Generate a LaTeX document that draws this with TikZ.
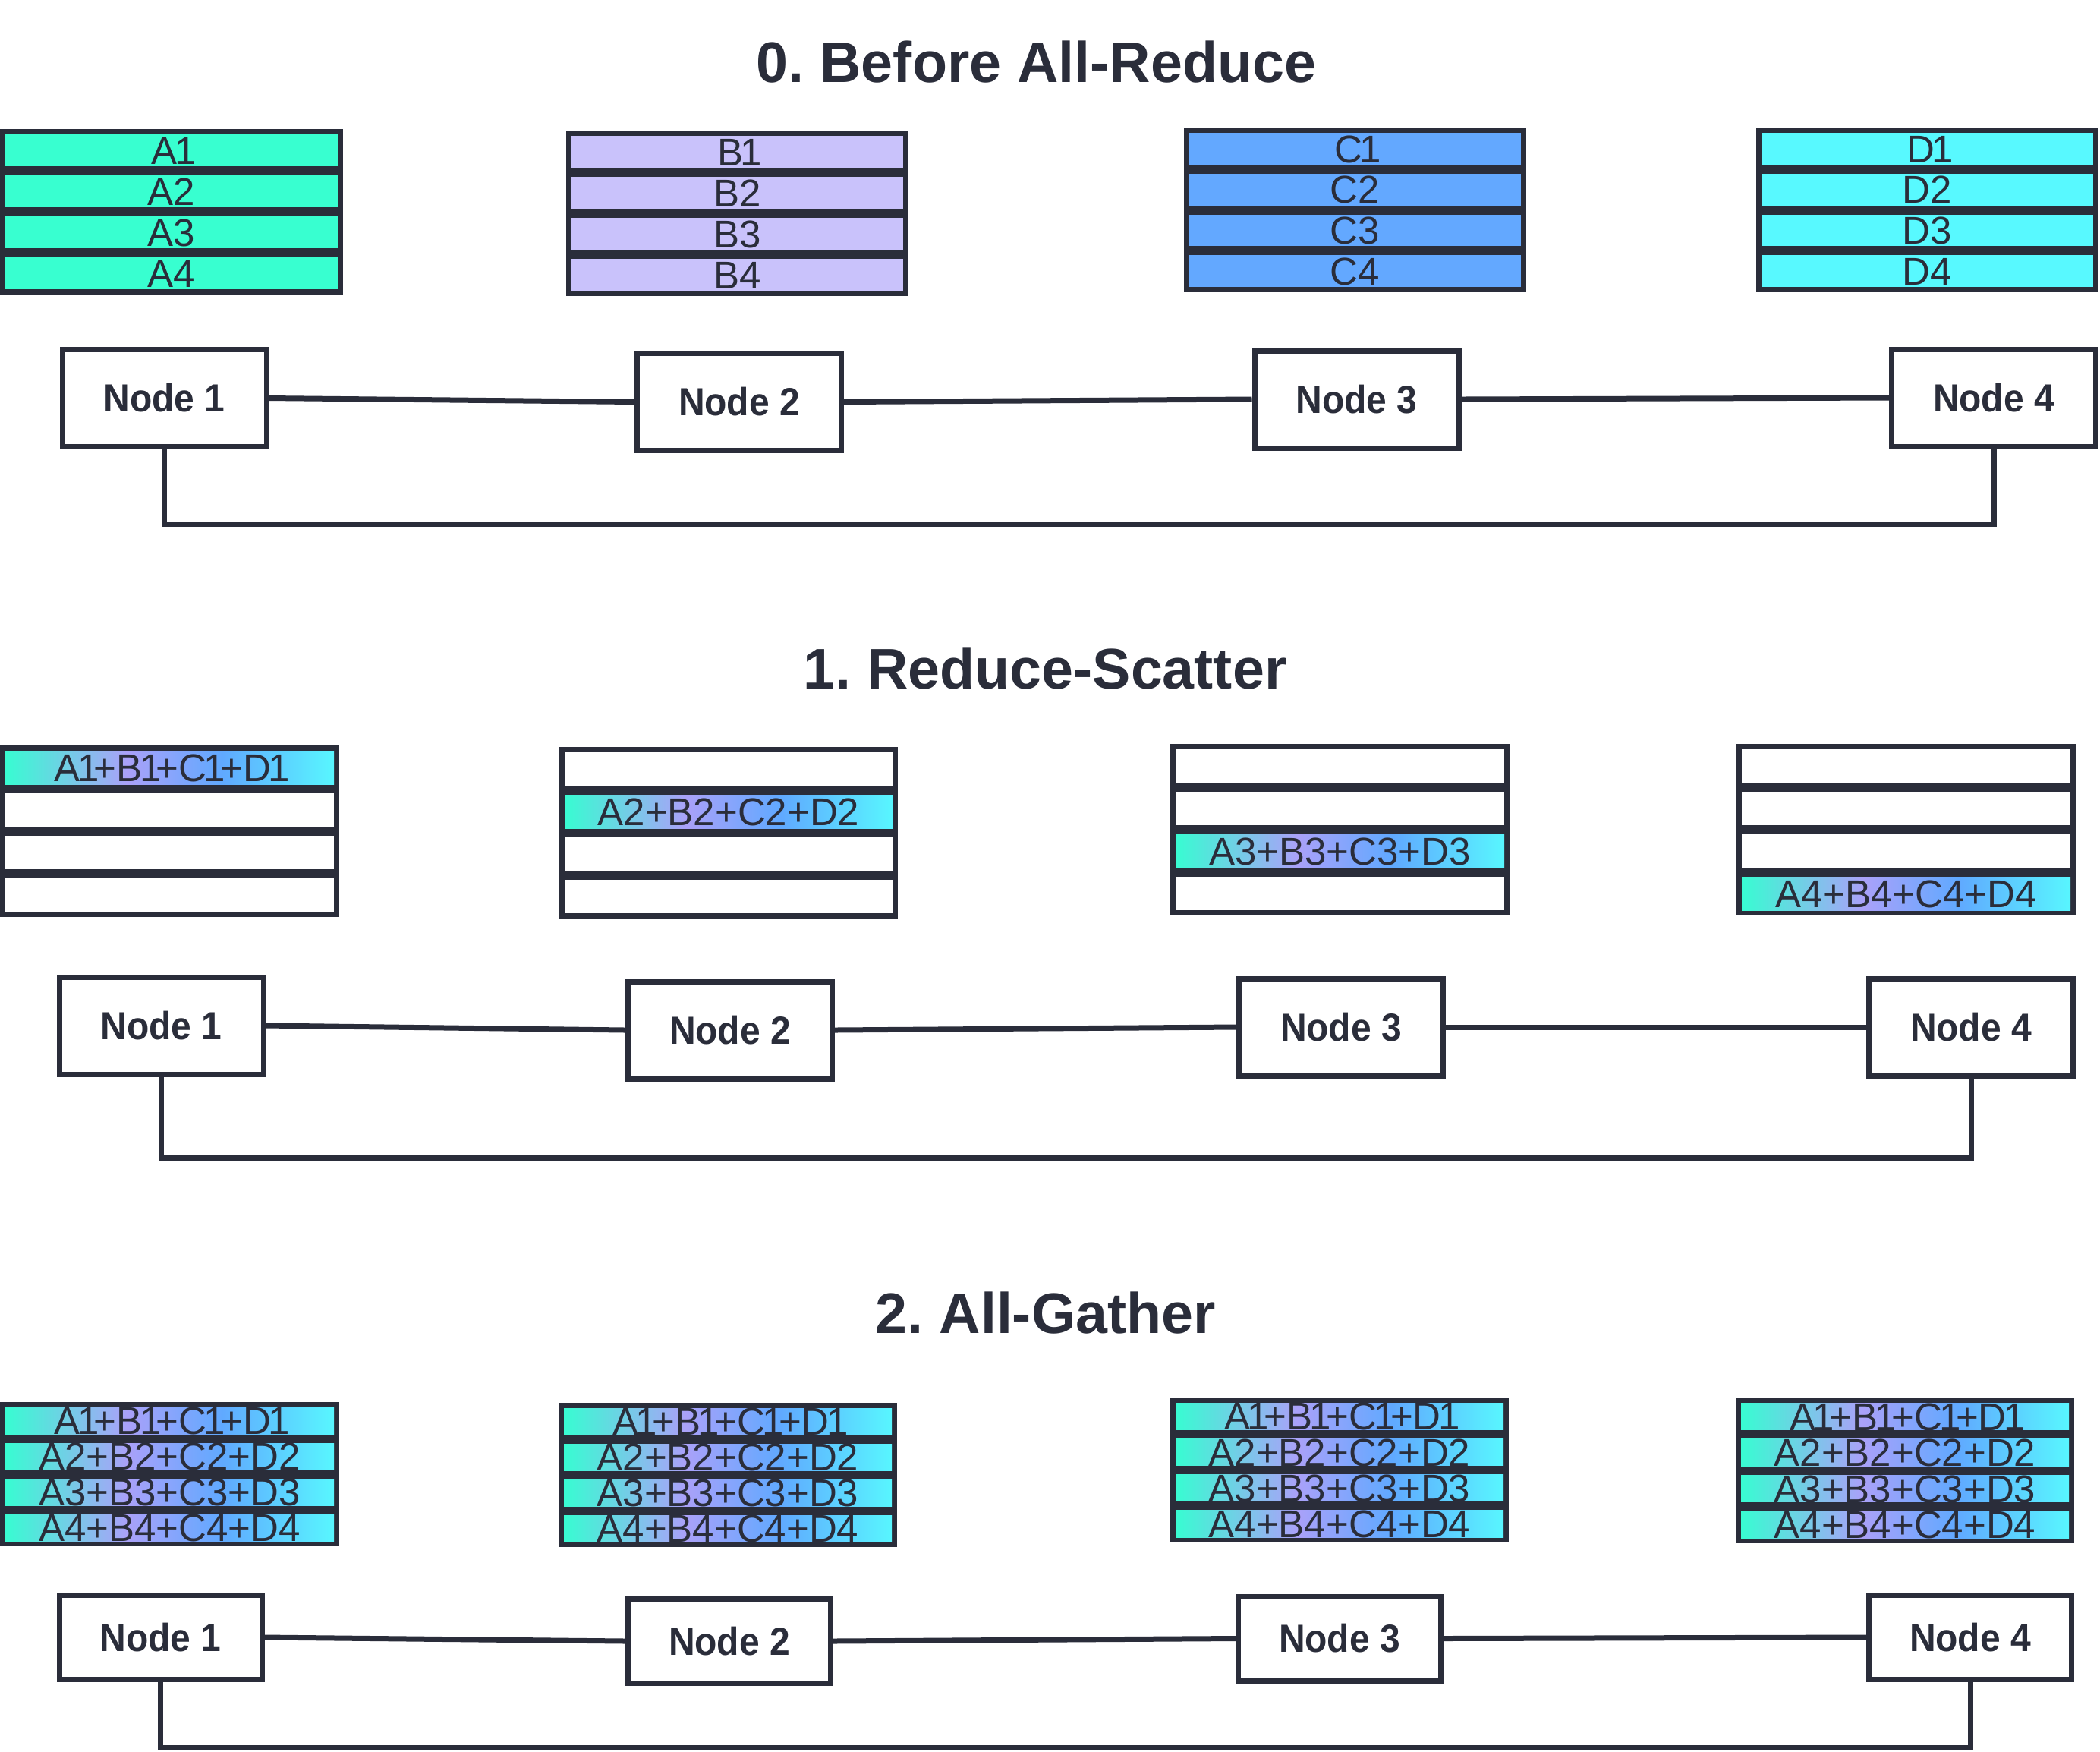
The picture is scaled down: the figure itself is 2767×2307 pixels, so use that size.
\documentclass[tikz,border=0pt]{standalone}
\usepackage{fontspec}
\setmainfont{Liberation Sans}
\newfontfamily\cellfont{Liberation Sans}
\newfontfamily\labfont[FakeStretch=0.93]{Liberation Sans}
\frenchspacing
\newcommand\one{\kern-0.07em1\kern-0.13em}
\definecolor{ink}{HTML}{2A2D3A}
\definecolor{colA}{HTML}{38FFD0}
\definecolor{colB}{HTML}{C9C2FB}
\definecolor{colC}{HTML}{63A8FF}
\definecolor{colD}{HTML}{58F9FF}
\definecolor{gA}{HTML}{38FCD2}
\definecolor{gB}{HTML}{AAA1F9}
\definecolor{gC}{HTML}{60A9FF}
\definecolor{gD}{HTML}{58F6FF}
\pgfdeclarehorizontalshading{cellgrad}{100bp}{color(0bp)=(gA); color(25bp)=(gA); color(43.5bp)=(gB); color(58bp)=(gC); color(75bp)=(gD); color(100bp)=(gD)}
\tikzset{
  rowA/.style={fill=colA},
  rowB/.style={fill=colB},
  rowC/.style={fill=colC},
  rowD/.style={fill=colD},
  rowW/.style={fill=white},
  rowG/.style={shading=cellgrad},
  celltext/.style={text=ink, inner sep=0pt, anchor=center,
    font=\cellfont\fontsize{12.75pt}{14pt}\selectfont,
    text height=9.13pt, text depth=0pt},
  netnode/.style={draw=ink, line width=1.75pt, fill=white, inner sep=0pt,
    text=ink, font=\labfont\bfseries\fontsize{12.9pt}{15pt}\selectfont,
    text height=9.2pt, text depth=0pt,
    minimum width=67.25pt, minimum height=32pt},
  shortnode/.style={netnode, minimum width=66.75pt, minimum height=27.75pt},
  link/.style={draw=ink, line width=1.75pt},
  title/.style={text=ink, inner sep=0pt, anchor=center,
    font=\bfseries\fontsize{18.85pt}{22pt}\selectfont,
    text height=13.5pt, text depth=0pt}
}
% #1 name, #2 x0, #3 y0, #4 x1, #5 y1, #6 list of style/text
\newcommand\databox[6]{%
  \fill[ink] (#2,#3) rectangle (#4,#5);
  \pgfmathsetmacro\rowh{((#5)-(#3)-50)/4}
  \foreach \st/\tx [count=\i from 0] in {#6} {
    \pgfmathsetmacro\ytop{#3+7+\i*(\rowh+12)}
    \pgfmathsetmacro\ybot{\ytop+\rowh}
    \expandafter\path\expandafter[\st] (#2+7,\ytop) rectangle (#4-7,\ybot);
    \node[celltext] (#1-\i) at ({(#2+#4)/2},{(\ytop+\ybot)/2}) {\tx};
  }
}
\begin{document}
\begin{tikzpicture}[x=0.25pt,y=-0.25pt]
\useasboundingbox (0,0) rectangle (2767,2307);
\fill[white] (0,0) rectangle (2767,2307);

% ---------- 0. Before All-Reduce ----------
\node[title] (t0) at (1365.5,81) {0. Before All-Reduce};
\databox{a0}{0}{170}{452}{388}{rowA/A\one,rowA/A2,rowA/A3,rowA/A4}
\databox{b0}{746}{172}{1197}{390}{rowB/B\one,rowB/B2,rowB/B3,rowB/B4}
\databox{c0}{1560}{168}{2011}{385}{rowC/C\one,rowC/C2,rowC/C3,rowC/C4}
\databox{d0}{2314}{168}{2765}{385}{rowD/D\one,rowD/D2,rowD/D3,rowD/D4}
\node[netnode] (n01) at (216.5,524.5) {Node 1};
\node[netnode] (n02) at (974,529.5) {Node 2};
\node[netnode] (n03) at (1787.5,526) {Node 3};
\node[netnode] (n04) at (2627,524) {Node 4};
\coordinate (l0) at (1400,690);
\draw[link] (n01.east) -- (n02.west);
\draw[link] (n02.east) -- (n03.west);
\draw[link] (n03.east) -- (n04.west);
\draw[link] (n01.south) |- (l0) -| (n04.south);

% ---------- 1. Reduce-Scatter ----------
\node[title] (t1) at (1377,880) {1. Reduce-Scatter};
\databox{a1}{0}{982}{447}{1208}{rowG/A\one+B\one+C\one+D\one,rowW/{},rowW/{},rowW/{}}
\databox{b1}{737}{984}{1183}{1210}{rowW/{},rowG/A2+B2+C2+D2,rowW/{},rowW/{}}
\databox{c1}{1542}{980}{1989}{1206}{rowW/{},rowW/{},rowG/A3+B3+C3+D3,rowW/{}}
\databox{d1}{2288}{980}{2735}{1206}{rowW/{},rowW/{},rowW/{},rowG/A4+B4+C4+D4}
\node[netnode] (n11) at (212.5,1351) {Node 1};
\node[netnode] (n12) at (962,1357) {Node 2};
\node[netnode] (n13) at (1767,1353) {Node 3};
\node[netnode] (n14) at (2597,1353) {Node 4};
\coordinate (l1) at (1400,1525);
\draw[link] (n11.east) -- (n12.west);
\draw[link] (n12.east) -- (n13.west);
\draw[link] (n13.east) -- (n14.west);
\draw[link] (n11.south) |- (l1) -| (n14.south);

% ---------- 2. All-Gather ----------
\node[title] (t2) at (1378,1729) {2. All-Gather};
\databox{a2}{0}{1847}{447}{2037}{rowG/A\one+B\one+C\one+D\one,rowG/A2+B2+C2+D2,rowG/A3+B3+C3+D3,rowG/A4+B4+C4+D4}
\databox{b2}{736}{1848}{1182}{2038}{rowG/A\one+B\one+C\one+D\one,rowG/A2+B2+C2+D2,rowG/A3+B3+C3+D3,rowG/A4+B4+C4+D4}
\databox{c2}{1542}{1841}{1988}{2032}{rowG/A\one+B\one+C\one+D\one,rowG/A2+B2+C2+D2,rowG/A3+B3+C3+D3,rowG/A4+B4+C4+D4}
\databox{d2}{2287}{1841}{2733}{2033}{rowG/A\one+B\one+C\one+D\one,rowG/A2+B2+C2+D2,rowG/A3+B3+C3+D3,rowG/A4+B4+C4+D4}
\node[shortnode] (n21) at (211.5,2157) {Node 1};
\node[shortnode] (n22) at (961,2162) {Node 2};
\node[shortnode] (n23) at (1765,2158.5) {Node 3};
\node[shortnode] (n24) at (2596,2157) {Node 4};
\coordinate (l2) at (1400,2302);
\draw[link] (n21.east) -- (n22.west);
\draw[link] (n22.east) -- (n23.west);
\draw[link] (n23.east) -- (n24.west);
\draw[link] (n21.south) |- (l2) -| (n24.south);
\end{tikzpicture}
\end{document}
